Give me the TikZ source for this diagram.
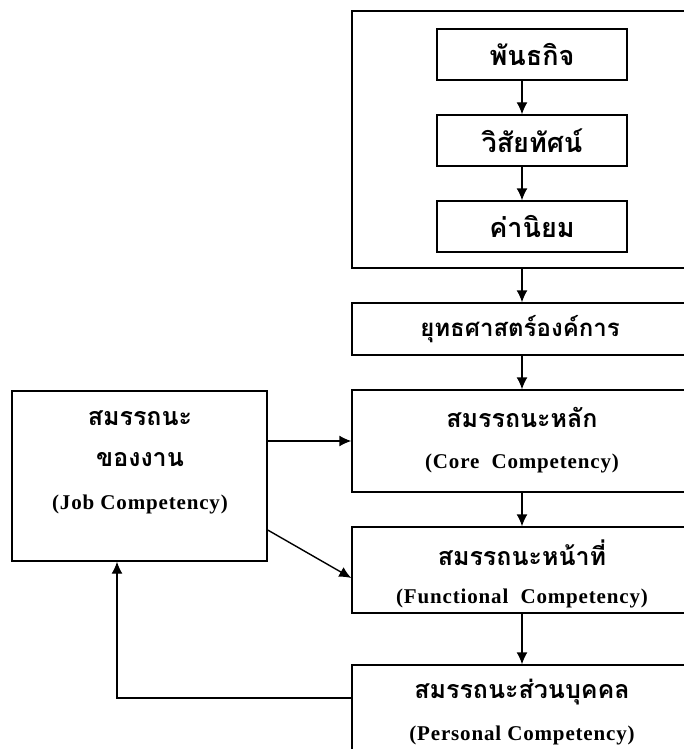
\documentclass[tikz,border=0pt]{standalone}
\usepackage{fontspec}
\setmainfont{Liberation Serif}
\newfontfamily\thaifont[Script=Thai]{Loma}
\newfontfamily\engfont[LetterSpace=4]{Liberation Serif}
\usetikzlibrary{arrows.meta,calc}

\tikzset{
  box/.style={draw=black, line width=1.4pt, fill=white, inner sep=0pt},
  arr/.style={line width=1.4pt, -{Latex[length=12pt,width=11pt]}},
  thlabel/.style={font=\thaifont\bfseries\fontsize{27}{30}\selectfont, inner sep=0pt},
  thmid/.style={font=\thaifont\bfseries\fontsize{24}{27}\selectfont, inner sep=0pt},
  thbig/.style={font=\thaifont\bfseries\fontsize{25}{28}\selectfont, inner sep=0pt},
  enlabel/.style={font=\engfont\bfseries\fontsize{21}{24}\selectfont, inner sep=0pt}
}

\begin{document}
\begin{tikzpicture}[x=1pt,y=-1pt]
\useasboundingbox (0,0) rectangle (684,749);
\fill[white] (0,0) rectangle (684,749);
\clip (0,0) rectangle (684,749);

% outer frame holding mission, vision, values
\node[box, minimum width=340, minimum height=257] (frame) at (522,139.5) {};
\node[box, minimum width=190, minimum height=51] (mission) at (532,54.5) {};
\node[thlabel] (missiont) at (mission.center) {พันธกิจ};
\node[box, minimum width=190, minimum height=51] (vision) at (532,140.5) {};
\node[thlabel] (visiont) at (vision.center) {วิสัยทัศน์};
\node[box, minimum width=190, minimum height=51] (values) at (532,226.5) {};
\node[thlabel] (valuest) at (values.center) {ค่านิยม};

% strategy
\node[box, minimum width=340, minimum height=52] (strategy) at (522,329) {};
\node[thmid] (strategyt) at (520,329) {ยุทธศาสตร์องค์การ};

% core competency
\node[box, minimum width=340, minimum height=102] (core) at (522,441) {};
\node[thbig] (coret) at (522,417) {สมรรถนะหลัก};
\node[enlabel] (coree) at (522,463) {(Core\ \ Competency)};

% functional competency
\node[box, minimum width=340, minimum height=86] (func) at (522,570) {};
\node[thbig] (funct) at (522,553) {สมรรถนะหน้าที่};
\node[enlabel] (funce) at (522,598) {(Functional\ \ Competency)};

% personal competency
\node[box, minimum width=340, minimum height=124] (personal) at (522,727) {};
\node[thbig] (personalt) at (522,692) {สมรรถนะส่วนบุคคล};
\node[enlabel] (personale) at (522,735) {(Personal Competency)};

% job competency
\node[box, minimum width=255, minimum height=170] (job) at (139.5,476) {};
\node[thbig] (jobt1) at (140,418) {สมรรถนะ};
\node[thbig] (jobt2) at (140,460) {ของงาน};
\node[enlabel] (jobe) at (140,504) {(Job Competency)};

% vertical chain
\draw[arr] (mission.south -| frame.center) -- (vision.north -| frame.center);
\draw[arr] (vision.south -| frame.center) -- (values.north -| frame.center);
\draw[arr] (frame.south) -- (strategy.north);
\draw[arr] (strategy.south) -- (core.north);
\draw[arr] (core.south) -- (func.north);
\draw[arr] (func.south) -- (personal.north);

% links from job competency
\draw[arr] (job.east |- core.west) -- (core.west);
\draw[arr] ($(job.east)+(0,54)$) -- ($(func.west)+(0,8)$);

% feedback from personal competency
\coordinate (fb) at (117,698);
\draw[arr] (fb -| personal.west) -- (fb) -- (fb |- job.south);
\end{tikzpicture}
\end{document}
